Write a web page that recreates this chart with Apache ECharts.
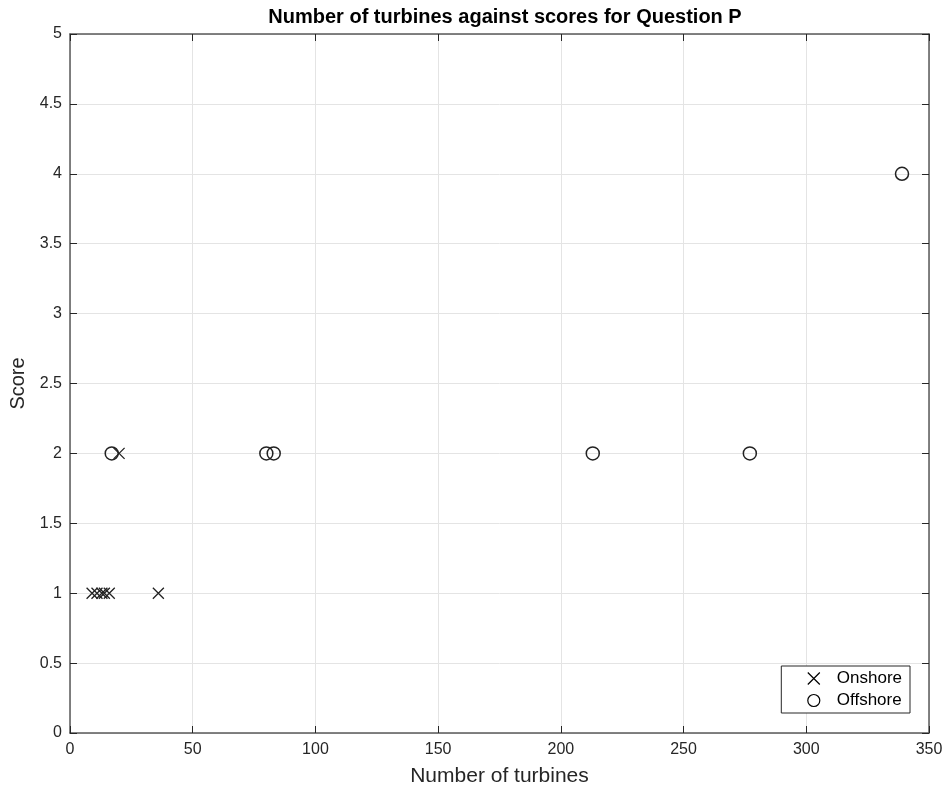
<!DOCTYPE html>
<html>
<head>
<meta charset="utf-8">
<script src="https://cdn.jsdelivr.net/npm/echarts@6/dist/echarts.min.js"></script>
<style>html,body{margin:0;padding:0;background:#fff;}#c{width:948px;height:794px;}</style>
</head>
<body>
<div id="c"></div>
<script>
var titleText = 'Number of turbines against scores for Question P';
var xName = 'Number of turbines';
var yName = 'Score';
var onshoreX = [9, 11, 13, 14, 16, 36, 20];
var onshoreY = [1, 1, 1, 1, 1, 1, 2];
var offshoreX = [17, 80, 83, 213, 277, 339];
var offshoreY = [2, 2, 2, 2, 2, 4];
var seriesNames = ['Onshore', 'Offshore'];

function pairs(xs, ys) { return xs.map(function (x, i) { return [x, ys[i]]; }); }

var crossPath = 'path://M0,0L10,10M10,0L0,10';
var axisColor = '#262626';
var lineColor = '#5a5a5a';
var font = 'Liberation Sans, Arial, sans-serif';

function boxAxis(extra) {
  var base = {
    axisLine: {show: true, onZero: false, lineStyle: {color: lineColor, width: 1.5}},
    axisTick: {show: true, inside: true, length: 7, lineStyle: {color: axisColor, width: 1}},
    axisLabel: {show: false}, splitLine: {show: false}
  };
  return Object.assign(base, extra);
}

var chart = echarts.init(document.getElementById('c'), null, {renderer: 'canvas'});
chart.setOption({
  animation: false,
  backgroundColor: '#fff',
  title: {
    text: titleText, left: 500, top: 2, textAlign: 'center',
    textStyle: {fontFamily: font, fontSize: 20, fontWeight: 'bold', color: '#000'}
  },
  grid: {left: 70, right: 19, top: 34, bottom: 61, containLabel: false, outerBoundsMode: 'none'},
  legend: {
    orient: 'vertical', right: 38, bottom: 81,
    borderColor: axisColor, borderWidth: 1, padding: [4, 8, 4, 24],
    itemGap: 5, itemWidth: 12, itemHeight: 12,
    backgroundColor: '#fff',
    textStyle: {fontFamily: font, fontSize: 17, color: '#000', padding: [0, 0, 0, 12]},
    data: [
      {name: seriesNames[0], icon: crossPath, itemStyle: {color: 'none', borderColor: '#000', borderWidth: 1.2}},
      {name: seriesNames[1], icon: 'circle', itemStyle: {color: 'none', borderColor: '#000', borderWidth: 1.2}}
    ]
  },
  xAxis: [boxAxis({
    type: 'value', min: 0, max: 350, interval: 50,
    name: xName, nameLocation: 'middle', nameGap: 33,
    nameTextStyle: {fontFamily: font, fontSize: 21, color: axisColor},
    axisLabel: {show: true, fontFamily: font, fontSize: 16, color: axisColor, margin: 9},
    splitLine: {show: true, lineStyle: {color: '#e4e4e4'}}
  }), boxAxis({
    type: 'value', min: 0, max: 350, interval: 50, position: 'top'
  })],
  yAxis: [boxAxis({
    type: 'value', min: 0, max: 5, interval: 0.5,
    name: yName, nameLocation: 'middle', nameGap: 42, nameRotate: 90,
    nameTextStyle: {fontFamily: font, fontSize: 20, color: axisColor},
    axisLabel: {show: true, fontFamily: font, fontSize: 16, color: axisColor, margin: 8},
    splitLine: {show: true, lineStyle: {color: '#e4e4e4'}}
  }), boxAxis({
    type: 'value', min: 0, max: 5, interval: 0.5, position: 'right'
  })],
  series: [{
    name: seriesNames[0], type: 'scatter', xAxisIndex: 0, yAxisIndex: 0,
    symbol: crossPath, symbolSize: 11,
    itemStyle: {color: 'none', borderColor: '#222', borderWidth: 1.3, opacity: 1},
    data: pairs(onshoreX, onshoreY)
  }, {
    name: seriesNames[1], type: 'scatter', xAxisIndex: 0, yAxisIndex: 0,
    symbol: 'circle', symbolSize: 13,
    itemStyle: {color: 'none', borderColor: '#222', borderWidth: 1.5, opacity: 1},
    data: pairs(offshoreX, offshoreY)
  }]
});
</script>
</body>
</html>
